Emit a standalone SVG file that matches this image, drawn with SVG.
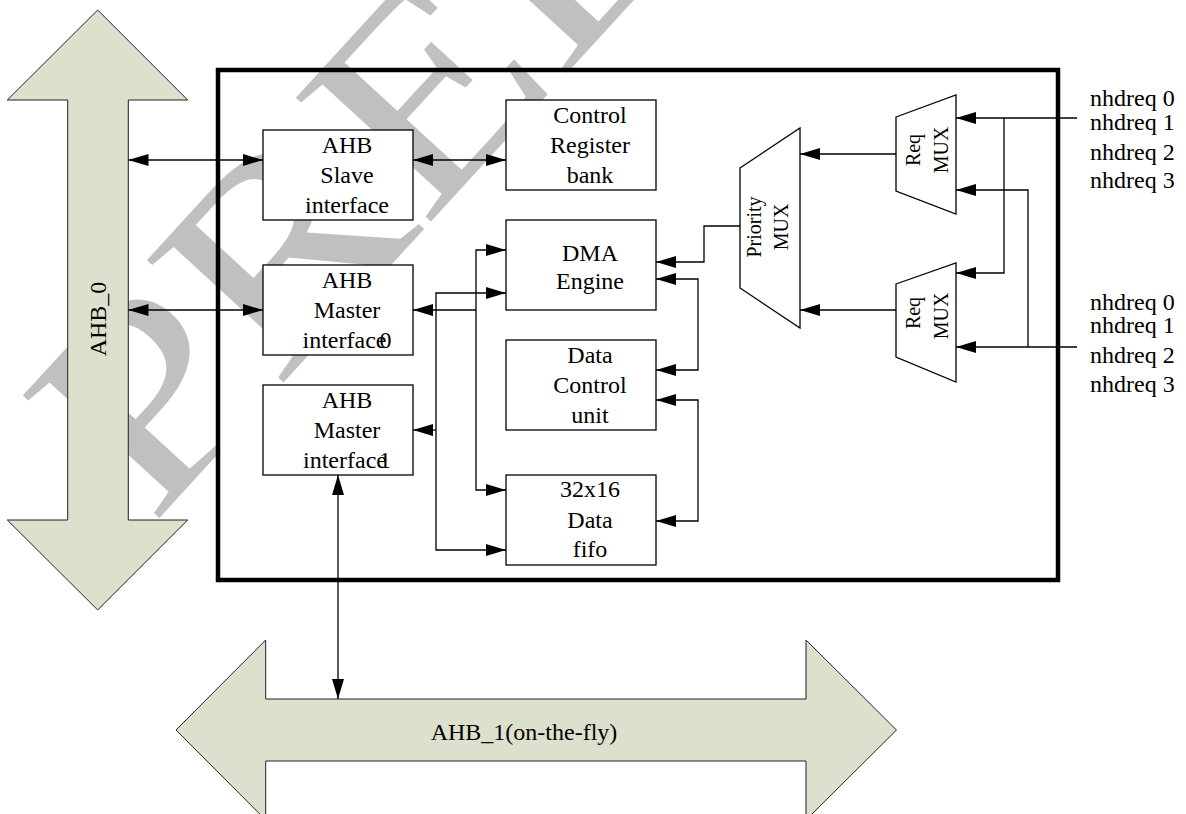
<svg xmlns="http://www.w3.org/2000/svg" width="1186" height="814" viewBox="0 0 1186 814" font-family="'Liberation Serif','Times New Roman','DejaVu Serif',serif">
<style>
text{font-family:'Liberation Serif','Times New Roman','DejaVu Serif',serif;fill:#000}
.t{font-size:24px;text-anchor:middle}
.r{font-size:20px;text-anchor:middle}
.box{fill:#fff;stroke:#000;stroke-width:1.3}
.bus{fill:#dde0cc;stroke:#222;stroke-width:1}
.c{fill:none;stroke:#000;stroke-width:1.3}
.lbl{font-size:24px}
.wm{font-size:280px;fill:#c0c0c0}
</style>
<defs>
<marker id="ah" viewBox="0 0 20 12" refX="20" refY="6" markerWidth="20" markerHeight="12" markerUnits="userSpaceOnUse" orient="auto-start-reverse"><path d="M0,0 L20,6 L0,12 z" fill="#000"/></marker>
</defs>
<rect width="1186" height="814" fill="#fff"/>
<text class="wm" font-family="'Liberation Serif',serif" transform="translate(151.5,526.5) rotate(-47.5) scale(1.18,1)">PRELIMINARY</text>

<g id="ahb0">
<polygon class="bus" points="97.7,10 187.7,100 128.3,100 128.3,520 187.7,520 97.7,610 7.3,520 67.7,520 67.7,100 7.3,100"/>
<text class="t" font-family="'Liberation Serif',serif" transform="translate(106,319) rotate(-90)">AHB_0</text>
</g>
<g id="ahb1">
<polygon class="bus" points="176,730 265.7,640 265.7,699 806,699 806,640 896.5,730 806,820 806,761 265.7,761 265.7,820"/>
<text class="t" font-family="'Liberation Serif',serif" x="524" y="740">AHB_1(on-the-fly)</text>
</g>
<g id="frame"><rect x="218" y="70" width="840" height="510" fill="none" stroke="#000" stroke-width="4.5"/></g>

<g id="slave" font-family="'Liberation Serif',serif"><rect class="box" x="263" y="130" width="150" height="90"/>
<text class="t" x="347" y="153">AHB</text><text class="t" x="347" y="183">Slave</text><text class="t" x="347" y="213">interface</text></g>
<g id="master0" font-family="'Liberation Serif',serif"><rect class="box" x="263" y="265" width="150" height="90"/>
<text class="t" x="347" y="288">AHB</text><text class="t" x="347" y="318">Master</text><text class="t" x="347" y="348">interface<tspan dx="-7">0</tspan></text></g>
<g id="master1" font-family="'Liberation Serif',serif"><rect class="box" x="263" y="385" width="150" height="90"/>
<text class="t" x="347" y="408">AHB</text><text class="t" x="347" y="438">Master</text><text class="t" x="347" y="468">interface<tspan dx="-8">1</tspan></text></g>
<g id="ctrlreg" font-family="'Liberation Serif',serif"><rect class="box" x="506" y="100" width="150" height="90"/>
<text class="t" x="590" y="123">Control</text><text class="t" x="590" y="153">Register</text><text class="t" x="590" y="183">bank</text></g>
<g id="dma" font-family="'Liberation Serif',serif"><rect class="box" x="506" y="220" width="150" height="90"/>
<text class="t" x="590" y="261">DMA</text><text class="t" x="590" y="289">Engine</text></g>
<g id="datactrl" font-family="'Liberation Serif',serif"><rect class="box" x="506" y="340" width="150" height="90"/>
<text class="t" x="590" y="363">Data</text><text class="t" x="590" y="393">Control</text><text class="t" x="590" y="423">unit</text></g>
<g id="fifo" font-family="'Liberation Serif',serif"><rect class="box" x="506" y="475" width="150" height="90"/>
<text class="t" x="590" y="497">32x16</text><text class="t" x="590" y="528">Data</text><text class="t" x="590" y="557">fifo</text></g>
<g id="prio" font-family="'Liberation Serif',serif"><polygon class="box" points="740,168 800,128 800,328 740,288"/>
<text class="r" transform="translate(761,227) rotate(-90)">Priority</text>
<text class="r" transform="translate(788,227) rotate(-90)">MUX</text></g>
<g id="requ" font-family="'Liberation Serif',serif"><polygon class="box" points="896,117 956,95 956,214 896,191"/>
<text class="r" transform="translate(920,150) rotate(-90)">Req</text>
<text class="r" transform="translate(948,150) rotate(-90)">MUX</text></g>
<g id="reql" font-family="'Liberation Serif',serif"><polygon class="box" points="896,284 956,263 956,382 896,357"/>
<text class="r" transform="translate(920,313) rotate(-90)">Req</text>
<text class="r" transform="translate(948,316) rotate(-90)">MUX</text></g>

<g id="labels" class="lbl" font-family="'Liberation Serif',serif" font-size="24">
<text x="1090" y="106">nhdreq 0</text><text x="1090" y="130">nhdreq 1</text><text x="1090" y="160">nhdreq 2</text><text x="1090" y="188">nhdreq 3</text>
<text x="1090" y="310">nhdreq 0</text><text x="1090" y="333">nhdreq 1</text><text x="1090" y="363">nhdreq 2</text><text x="1090" y="392">nhdreq 3</text>
</g>

<g id="connectors">
<path class="c" d="M128.5,160 H263" marker-start="url(#ah)" marker-end="url(#ah)"/>
<path class="c" d="M128.5,310 H263" marker-start="url(#ah)" marker-end="url(#ah)"/>
<path class="c" d="M413,160 H506" marker-start="url(#ah)" marker-end="url(#ah)"/>
<path class="c" d="M338,475 V699" marker-start="url(#ah)" marker-end="url(#ah)"/>
<path class="c" d="M740,226 H704 V262 H656" marker-end="url(#ah)"/>
<path class="c" d="M656,279 H698 V370 H656" marker-start="url(#ah)" marker-end="url(#ah)"/>
<path class="c" d="M656,400 H698 V521 H656" marker-start="url(#ah)" marker-end="url(#ah)"/>
<path class="c" d="M506,250 H476 V490 H506" marker-start="url(#ah)" marker-end="url(#ah)"/>
<path class="c" d="M476,310 H413" marker-end="url(#ah)"/>
<path class="c" d="M506,293 H436 V550 H506" marker-start="url(#ah)" marker-end="url(#ah)"/>
<path class="c" d="M436,430 H413" marker-end="url(#ah)"/>
<path class="c" d="M896,154 H800" marker-end="url(#ah)"/>
<path class="c" d="M896,310 H800" marker-end="url(#ah)"/>
<path class="c" d="M1077,118 H956" marker-end="url(#ah)"/>
<path class="c" d="M1004,118 V273 H956" marker-end="url(#ah)"/>
<path class="c" d="M1077,347 H956" marker-end="url(#ah)"/>
<path class="c" d="M1028,347 V190 H956" marker-end="url(#ah)"/>
</g>
</svg>
